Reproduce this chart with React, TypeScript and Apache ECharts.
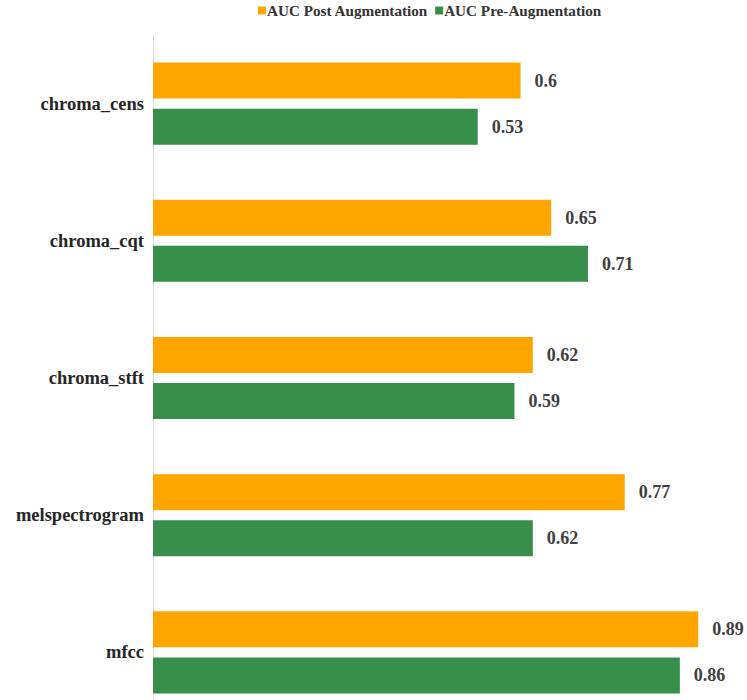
import React, { useEffect, useRef } from "react";
import * as echarts from "echarts";

const categories = ["chroma_cens", "chroma_cqt", "chroma_stft", "melspectrogram", "mfcc"];
const postAug = [0.6, 0.65, 0.62, 0.77, 0.89];
const preAug = [0.53, 0.71, 0.59, 0.62, 0.86];
const seriesNames = ["AUC Post Augmentation", "AUC Pre-Augmentation"];

const FONT = "'Liberation Serif', serif";

export default function App() {
  const ref = useRef<HTMLDivElement>(null);
  useEffect(() => {
    if (!ref.current) return;
    const chart = echarts.init(ref.current, null, { renderer: "svg" });
    const labelCfg = {
      show: true,
      position: "right",
      distance: 14,
      fontFamily: FONT,
      fontWeight: "bold",
      fontSize: 18,
      color: "#404040",
    };
    chart.setOption({
      animation: false,
      backgroundColor: "#ffffff",
      textStyle: { fontFamily: FONT },
      legend: {
        data: seriesNames,
        top: -2,
        left: 253,
        itemWidth: 8,
        itemHeight: 8,
        itemGap: 7,
        icon: "rect",
        textStyle: { fontFamily: FONT, fontWeight: "bold", fontSize: 15.2, color: "#333333", padding: [0, 0, 0, -4] },
      },
      grid: { left: 153, top: 35, width: 582, height: 686, containLabel: false },
      xAxis: {
        type: "value",
        min: 0,
        max: 0.95,
        show: false,
        splitLine: { show: false },
      },
      yAxis: {
        type: "category",
        data: categories,
        inverse: true,
        axisLine: { show: true, lineStyle: { color: "#d9d9d9", width: 1 } },
        axisTick: { show: false },
        axisLabel: {
          fontFamily: FONT,
          fontWeight: "bold",
          fontSize: 18.5,
          color: "#262626",
          margin: 9,
        },
      },
      series: [
        {
          name: seriesNames[0],
          type: "bar",
          data: postAug,
          barWidth: 36,
          barGap: "28%",
          itemStyle: { color: "#FFA500" },
          label: labelCfg,
        },
        {
          name: seriesNames[1],
          type: "bar",
          data: preAug,
          barWidth: 36,
          barGap: "28%",
          itemStyle: { color: "#388E4B" },
          label: labelCfg,
        },
      ],
    });
    return () => chart.dispose();
  }, []);
  return (
    <div style={{ position: "fixed", left: 0, top: 0, width: 747, height: 700, overflow: "hidden", background: "#fff" }}>
      <div ref={ref} style={{ width: 747, height: 722 }} />
    </div>
  );
}
